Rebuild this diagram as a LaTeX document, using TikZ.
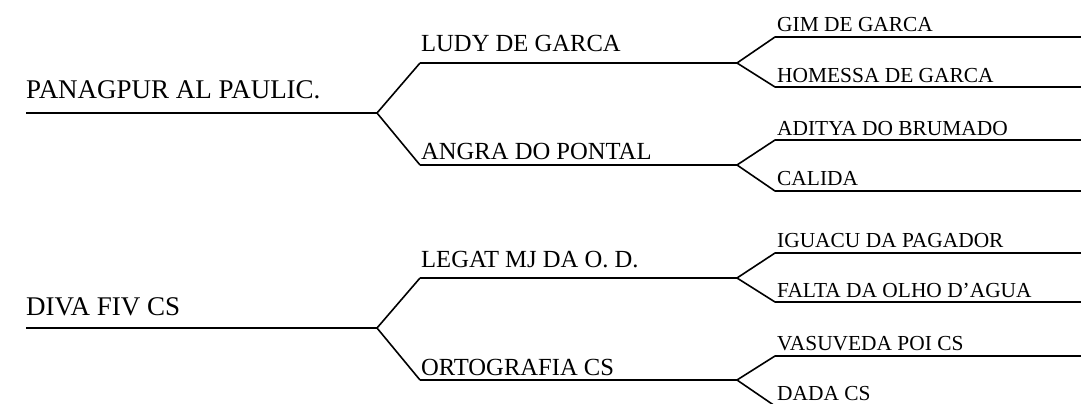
\documentclass[tikz,border=0pt]{standalone}
\usepackage{fontspec}
\setmainfont{Liberation Serif}
\begin{document}
\begin{tikzpicture}[x=1pt,y=-1pt,
  ln/.style={line width=1.6pt,line join=round,black},
  gone/.style={anchor=base west,inner sep=0pt,font=\fontsize{27}{30}\selectfont},
  gtwo/.style={anchor=base west,inner sep=0pt,font=\fontsize{24.6}{28}\selectfont},
  gthree/.style={anchor=base west,inner sep=0pt,font=\fontsize{21.4}{25}\selectfont}]
\useasboundingbox (0,0) rectangle (1081,404);
\begin{scope}
\clip (0,0) rectangle (1081,404);
% ---------- top pedigree ----------
\coordinate (As) at (26,113);  \coordinate (Af) at (377,113);
\coordinate (Bs) at (420,63);  \coordinate (Bf) at (737,63);
\coordinate (Cs) at (420,165); \coordinate (Cf) at (737,165);
\coordinate (D1s) at (775,37);  \coordinate (D1e) at (1081,37);
\coordinate (D2s) at (775,87);  \coordinate (D2e) at (1081,87);
\coordinate (D3s) at (775,140); \coordinate (D3e) at (1081,140);
\coordinate (D4s) at (775,191); \coordinate (D4e) at (1081,191);
\node[gone] (tA) at (26,99) {PANAGPUR AL PAULIC.};
\node[gtwo] (tB) at (421,52) {LUDY DE GARCA};
\node[gtwo] (tC) at (421,159) {ANGRA DO PONTAL};
\node[gthree] (tD1) at (777,32) {GIM DE GARCA};
\node[gthree] (tD2) at (777,82) {HOMESSA DE GARCA};
\node[gthree] (tD3) at (777,135) {ADITYA DO BRUMADO};
\node[gthree] (tD4) at (777,185) {CALIDA};
\draw[ln] (As) -- (Af);
\draw[ln] (Bs) -- (Af) -- (Cs);
\draw[ln] (Bs) -- (Bf);
\draw[ln] (Cs) -- (Cf);
\draw[ln] (D1e) -- (D1s) -- (Bf) -- (D2s) -- (D2e);
\draw[ln] (D3e) -- (D3s) -- (Cf) -- (D4s) -- (D4e);
% ---------- bottom pedigree ----------
\coordinate (Es) at (26,328);  \coordinate (Ef) at (377,328);
\coordinate (Fs) at (420,278); \coordinate (Ff) at (737,278);
\coordinate (Gs) at (420,380); \coordinate (Gf) at (737,380);
\coordinate (H1s) at (775,253); \coordinate (H1e) at (1081,253);
\coordinate (H2s) at (775,302); \coordinate (H2e) at (1081,302);
\coordinate (H3s) at (775,356); \coordinate (H3e) at (1081,356);
\coordinate (H4s) at (775,406); \coordinate (H4e) at (1081,406);
\node[gone] (tE) at (26,315) {DIVA FIV CS};
\node[gtwo] (tF) at (421,267) {LEGAT MJ DA O. D.};
\node[gtwo] (tG) at (421,375) {ORTOGRAFIA CS};
\node[gthree] (tH1) at (777,247) {IGUACU DA PAGADOR};
\node[gthree] (tH2) at (777,297) {FALTA DA OLHO D’AGUA};
\node[gthree] (tH3) at (777,350) {VASUVEDA POI CS};
\node[gthree] (tH4) at (777,400.5) {DADA CS};
\draw[ln] (Es) -- (Ef);
\draw[ln] (Fs) -- (Ef) -- (Gs);
\draw[ln] (Fs) -- (Ff);
\draw[ln] (Gs) -- (Gf);
\draw[ln] (H1e) -- (H1s) -- (Ff) -- (H2s) -- (H2e);
\draw[ln] (H3e) -- (H3s) -- (Gf) -- (H4s) -- (H4e);
\end{scope}
\end{tikzpicture}
\end{document}
